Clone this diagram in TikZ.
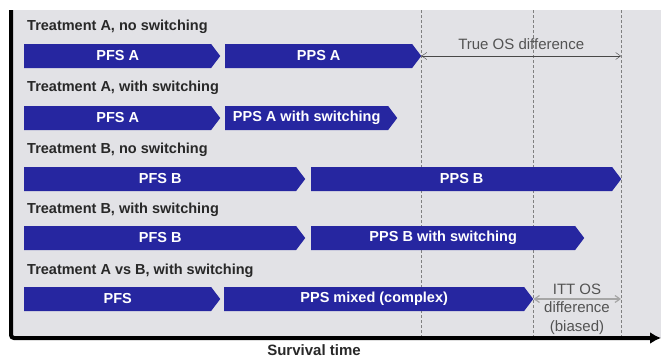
\documentclass[tikz,border=0pt]{standalone}
\usepackage{fontspec}
\setmainfont{Liberation Sans}
\usetikzlibrary{arrows.meta,positioning,shapes.symbols}

\definecolor{barblue}{RGB}{38,38,160}
\definecolor{panelgray}{RGB}{226,226,230}
\definecolor{labelgray}{RGB}{40,40,40}

\begin{document}
\begin{tikzpicture}[x=1pt,y=-1pt,
  phase/.style={signal,signal to=east,signal pointer angle=106,fill=barblue,text=white,
    font=\fontsize{14.5}{16}\selectfont\bfseries,minimum height=24pt,inner sep=0pt,anchor=west},
  arm/.style={anchor=west,text=labelgray,font=\fontsize{14.5}{16}\selectfont\bfseries,inner sep=0pt},
  gap/.style={{Straight Barb[length=5pt,width=7pt]}-{Straight Barb[length=5pt,width=7pt]}},
  note/.style={text=labelgray!80,font=\fontsize{15}{18.5}\selectfont,align=center,inner sep=0pt},
  guide/.style={gray,thin,dash pattern=on 3pt off 2pt}]
\useasboundingbox (0,0) rectangle (661,359);
\fill[panelgray] (11,10) rectangle (661,338);
% time marks
\draw[guide] (421,10) -- (421,338);
\draw[guide] (533,10) -- (533,338);
\draw[guide] (621,10) -- (621,338);
% treatment A, no switching
\node[arm] (armA) at (27,27) {Treatment A, no switching};
\node[phase,minimum width=196pt] (pfsA) at (24,56) {PFS A};
\node[phase,minimum width=196pt] (ppsA) at (225,56) {PPS A};
\coordinate (osEnd) at (621,56);
\draw[gap,labelgray!85,thin] (ppsA.east) -- node[note,above=6pt]{True OS difference} (osEnd);
% treatment A, with switching
\node[arm] (armAs) at (27,88) {Treatment A, with switching};
\node[phase,minimum width=196pt] (pfsAs) at (24,118) {PFS A};
\node[phase,minimum width=172pt] (ppsAs) at (225,118) {PPS A with switching};
% treatment B, no switching
\node[arm] (armB) at (27,150) {Treatment B, no switching};
\node[phase,minimum width=281pt] (pfsB) at (24,179) {PFS B};
\node[phase,minimum width=310pt] (ppsB) at (311,179) {PPS B};
% treatment B, with switching
\node[arm] (armBs) at (27,210) {Treatment B, with switching};
\node[phase,minimum width=281pt] (pfsBs) at (24,238) {PFS B};
\node[phase,minimum width=273pt] (ppsBs) at (311,238) {PPS B with switching};
% A vs B
\node[arm] (armAB) at (27,271) {Treatment A vs B, with switching};
\node[phase,minimum width=196pt] (pfsAB) at (24,299) {PFS};
\node[phase,minimum width=309pt] (ppsAB) at (224,299) {PPS mixed (complex)};
\coordinate (ittEnd) at (621,299);
\draw[gap,gray!70,line width=1.2pt] (ppsAB.east) -- (ittEnd);
\node[note] (itt) at (577,309) {ITT OS\\difference\\(biased)};
% axes
\draw[line width=4pt,rounded corners=3pt,-{Latex[length=11pt,width=12pt]}] (11,10) -- (11,338) -- (661,338);
\node[font=\fontsize{15}{17}\selectfont\bfseries,text=labelgray,inner sep=0pt] (xlab) at (314,350) {Survival time};
\end{tikzpicture}
\end{document}
